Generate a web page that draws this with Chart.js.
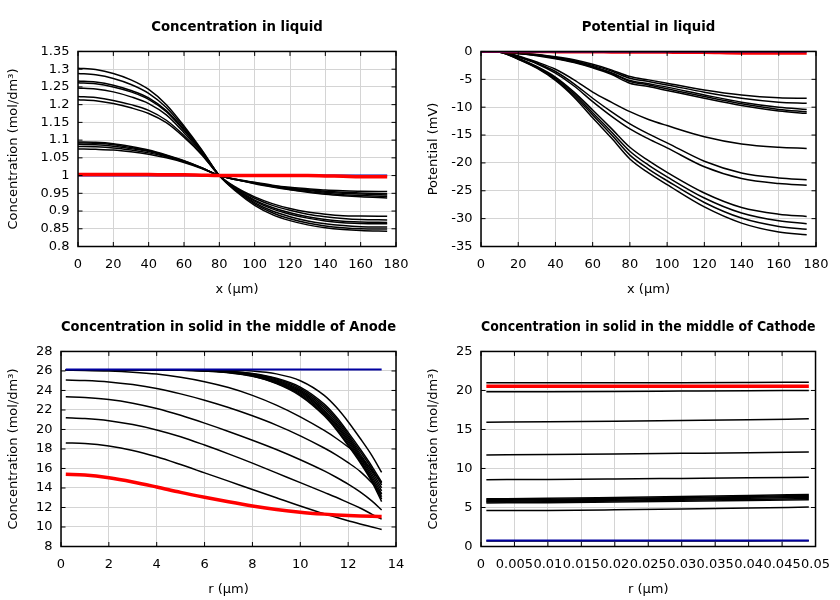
<!DOCTYPE html>
<html>
<head>
<meta charset="utf-8">
<title>Cell profiles</title>
<script src="https://cdn.jsdelivr.net/npm/chart.js@4.4.1/dist/chart.umd.min.js"></script>
<style>
    html, body { margin: 0; padding: 0; background: #fff; }
    #page { position: relative; width: 840px; height: 600px; }
    #page canvas { position: absolute; }
</style>
</head>
<body>
<div id="page">
    <canvas id="liquidConc" width="420" height="300" style="left:0;top:0"></canvas>
    <canvas id="liquidPot" width="420" height="300" style="left:420px;top:0"></canvas>
    <canvas id="anodeSolid" width="420" height="300" style="left:0;top:300px"></canvas>
    <canvas id="cathodeSolid" width="420" height="300" style="left:420px;top:300px"></canvas>
</div>
<script>
// Concentration in liquid
const liquidX = [0, 10, 20, 30, 40, 50, 60, 70, 80, 90, 100, 110, 120, 130, 140, 150, 160, 175];
const concHigh = [
    [1.303, 1.299, 1.288, 1.27, 1.243, 1.2, 1.14, 1.073, 1.0, 0.953, 0.916, 0.89, 0.873, 0.861, 0.853, 0.848, 0.845, 0.843],
    [1.288, 1.284, 1.274, 1.257, 1.232, 1.192, 1.135, 1.071, 1.0, 0.955, 0.92, 0.895, 0.878, 0.866, 0.858, 0.853, 0.85, 0.849],
    [1.267, 1.264, 1.255, 1.24, 1.219, 1.183, 1.13, 1.069, 1.0, 0.957, 0.924, 0.9, 0.884, 0.872, 0.864, 0.859, 0.856, 0.855],
    [1.262, 1.259, 1.25, 1.236, 1.215, 1.18, 1.127, 1.068, 1.0, 0.959, 0.928, 0.906, 0.891, 0.88, 0.872, 0.867, 0.865, 0.864],
    [1.247, 1.244, 1.236, 1.222, 1.203, 1.171, 1.121, 1.065, 1.0, 0.961, 0.931, 0.91, 0.895, 0.884, 0.876, 0.871, 0.869, 0.868],
    [1.223, 1.22, 1.212, 1.2, 1.184, 1.156, 1.113, 1.061, 1.0, 0.963, 0.936, 0.916, 0.902, 0.891, 0.884, 0.879, 0.876, 0.875],
    [1.214, 1.211, 1.203, 1.191, 1.175, 1.149, 1.108, 1.059, 1.0, 0.965, 0.94, 0.921, 0.907, 0.897, 0.891, 0.887, 0.886, 0.885]
];
const concLow = [
    [1.095, 1.094, 1.09, 1.082, 1.072, 1.058, 1.042, 1.022, 1.0, 0.988, 0.977, 0.968, 0.96, 0.953, 0.947, 0.943, 0.94, 0.937],
    [1.092, 1.091, 1.087, 1.079, 1.07, 1.057, 1.041, 1.022, 1.0, 0.988, 0.978, 0.969, 0.961, 0.955, 0.95, 0.946, 0.944, 0.941],
    [1.088, 1.087, 1.083, 1.076, 1.068, 1.055, 1.04, 1.021, 1.0, 0.988, 0.979, 0.97, 0.963, 0.958, 0.953, 0.95, 0.948, 0.945],
    [1.082, 1.081, 1.078, 1.072, 1.064, 1.053, 1.039, 1.021, 1.0, 0.989, 0.98, 0.971, 0.965, 0.96, 0.956, 0.953, 0.951, 0.949],
    [1.075, 1.074, 1.072, 1.067, 1.06, 1.05, 1.037, 1.02, 1.0, 0.989, 0.981, 0.973, 0.967, 0.963, 0.959, 0.957, 0.956, 0.955]
];
const concStart = [1, 1, 1, 1, 1, 1, 1, 1, 1, 1, 1, 1, 1, 1, 1, 1, 1, 1];
const concEnd = [1.003, 1.003, 1.003, 1.003, 1.003, 1.002, 1.002, 1.001, 1.0, 1.0, 1.0, 1.0, 1.0, 1.0, 0.999, 0.998, 0.997, 0.997];

// Potential in liquid
const potX = [0, 10, 20, 30, 40, 50, 60, 70, 80, 90, 100, 120, 140, 160, 175];
const potCurves = [
    [0, -0.05, -0.25, -0.55, -0.95, -1.5, -2.3, -3.3, -4.5, -5.1, -5.7, -6.9, -7.8, -8.3, -8.4],
    [0, -0.05, -0.3, -0.6, -1.05, -1.65, -2.5, -3.5, -4.8, -5.4, -6.0, -7.3, -8.4, -9.1, -9.3],
    [0, -0.05, -0.3, -0.65, -1.15, -1.8, -2.7, -3.8, -5.2, -5.8, -6.4, -7.8, -9.1, -10.0, -10.4],
    [0, -0.05, -0.35, -0.7, -1.2, -1.9, -2.8, -3.9, -5.4, -6.0, -6.7, -8.1, -9.4, -10.4, -10.8],
    [0, -0.06, -0.35, -0.75, -1.3, -2.0, -2.95, -4.1, -5.7, -6.3, -7.0, -8.4, -9.7, -10.7, -11.1],
    [0, -0.1, -0.8, -1.9, -3.2, -5.1, -7.3, -9.1, -10.8, -12.2, -13.3, -15.3, -16.6, -17.2, -17.4],
    [0, -0.1, -0.9, -2.1, -3.6, -5.8, -8.4, -10.8, -13.0, -14.8, -16.4, -19.7, -21.8, -22.7, -23.0],
    [0, -0.1, -1.0, -2.2, -3.9, -6.2, -9.0, -11.6, -13.9, -15.7, -17.3, -20.7, -22.8, -23.7, -24.0],
    [0, -0.12, -1.2, -2.7, -4.6, -7.3, -10.5, -13.8, -17.2, -19.6, -21.7, -25.4, -28.0, -29.2, -29.6],
    [0, -0.12, -1.3, -2.8, -4.8, -7.6, -11.0, -14.4, -17.9, -20.4, -22.5, -26.3, -29.0, -30.4, -30.9],
    [0, -0.13, -1.35, -2.9, -5.0, -7.9, -11.4, -14.9, -18.6, -21.1, -23.2, -27.1, -29.9, -31.4, -31.9],
    [0, -0.14, -1.4, -3.0, -5.2, -8.2, -11.9, -15.5, -19.3, -21.8, -23.9, -27.9, -30.8, -32.4, -32.9]
];
const potStart = [0, 0, 0, 0, 0, 0, 0, 0, 0, 0, 0, 0, 0, 0, 0];
const potEnd = [0, -0.02, -0.05, -0.06, -0.08, -0.1, -0.1, -0.12, -0.13, -0.15, -0.16, -0.2, -0.3, -0.3, -0.3];

// Concentration in solid, anode
const anodeR = [0.2, 1, 2, 3, 4, 5, 6, 7, 8, 9, 10, 11, 11.5, 12, 12.5, 13, 13.4];
const anodeCurves = [
    [26.1, 26.1, 26.1, 26.1, 26.1, 26.1, 26.1, 26.08, 26.0, 25.7, 25.0, 23.5, 22.3, 20.8, 19.1, 17.3, 15.6],
    [26.1, 26.1, 26.1, 26.1, 26.1, 26.1, 26.07, 25.97, 25.75, 25.25, 24.35, 22.6, 21.3, 19.7, 18.0, 16.2, 14.6],
    [26.1, 26.1, 26.1, 26.1, 26.1, 26.1, 26.06, 25.95, 25.71, 25.17, 24.2, 22.4, 21.1, 19.5, 17.75, 15.95, 14.3],
    [26.1, 26.1, 26.1, 26.1, 26.1, 26.1, 26.05, 25.93, 25.66, 25.07, 24.05, 22.2, 20.9, 19.3, 17.5, 15.65, 14.0],
    [26.1, 26.1, 26.1, 26.1, 26.1, 26.1, 26.04, 25.91, 25.62, 24.98, 23.92, 22.0, 20.7, 19.1, 17.3, 15.4, 13.7],
    [26.1, 26.1, 26.1, 26.1, 26.1, 26.09, 26.03, 25.89, 25.57, 24.9, 23.8, 21.85, 20.5, 18.9, 17.1, 15.15, 13.4],
    [26.1, 26.1, 26.1, 26.1, 26.1, 26.09, 26.02, 25.87, 25.53, 24.83, 23.68, 21.7, 20.35, 18.7, 16.9, 14.9, 13.1],
    [26.1, 26.1, 26.1, 26.1, 26.1, 26.08, 26.01, 25.85, 25.49, 24.76, 23.56, 21.55, 20.15, 18.5, 16.75, 14.75, 12.85],
    [26.1, 26.1, 26.1, 26.1, 26.1, 26.07, 26.0, 25.82, 25.45, 24.7, 23.45, 21.4, 20.0, 18.35, 16.6, 14.6, 12.6],
    [26.08, 26.06, 26.0, 25.88, 25.68, 25.35, 24.9, 24.3, 23.5, 22.5, 21.3, 19.9, 19.1, 18.2, 17.2, 15.8, 14.5],
    [25.07, 25.02, 24.88, 24.6, 24.2, 23.65, 23.0, 22.25, 21.4, 20.45, 19.35, 18.1, 17.4, 16.6, 15.7, 14.5, 13.35],
    [23.35, 23.28, 23.08, 22.7, 22.15, 21.45, 20.65, 19.8, 18.9, 17.95, 16.9, 15.75, 15.1, 14.4, 13.6, 12.65, 11.75],
    [21.2, 21.12, 20.9, 20.5, 19.95, 19.25, 18.4, 17.5, 16.55, 15.55, 14.55, 13.55, 13.05, 12.5, 11.95, 11.3, 10.8],
    [18.62, 18.55, 18.3, 17.85, 17.2, 16.4, 15.55, 14.7, 13.85, 13.0, 12.15, 11.35, 11.0, 10.65, 10.3, 10.0, 9.75]
];
const anodeStart = [26.15, 26.15, 26.15, 26.15, 26.15, 26.15, 26.15, 26.15, 26.15, 26.15, 26.15, 26.15, 26.15, 26.15, 26.15, 26.15, 26.15];
const anodeEnd = [15.4, 15.33, 15.05, 14.62, 14.1, 13.55, 13.05, 12.58, 12.15, 11.8, 11.52, 11.32, 11.24, 11.17, 11.12, 11.09, 11.08];

// Concentration in solid, cathode
const cathodeR = [0.0008, 0.01, 0.02, 0.03, 0.04, 0.049];
const cathodeCurves = [
    [21.0, 21.0, 21.0, 21.0, 21.02, 21.05],
    [19.83, 19.85, 19.88, 19.92, 19.96, 20.0],
    [15.94, 15.98, 16.06, 16.16, 16.26, 16.36],
    [11.74, 11.78, 11.85, 11.94, 12.03, 12.12],
    [8.57, 8.6, 8.66, 8.73, 8.8, 8.87],
    [6.12, 6.17, 6.28, 6.4, 6.54, 6.68],
    [6.01, 6.06, 6.16, 6.28, 6.42, 6.55],
    [5.9, 5.95, 6.05, 6.17, 6.3, 6.42],
    [5.8, 5.85, 5.94, 6.05, 6.17, 6.28],
    [5.69, 5.74, 5.83, 5.93, 6.04, 6.14],
    [5.58, 5.62, 5.7, 5.8, 5.9, 6.0],
    [4.6, 4.62, 4.7, 4.8, 4.92, 5.05],
    [0.72, 0.72, 0.72, 0.72, 0.72, 0.73]
];
const cathodeStart = [0.77, 0.77, 0.77, 0.77, 0.77, 0.77];
const cathodeEnd = [20.55, 20.55, 20.55, 20.55, 20.55, 20.55];

const FONT = '"DejaVu Sans", sans-serif';
const GRID = '#d4d4d4';
const BLUE = '#0000a0';
const RED = '#ff0000';

/**
 * Black frame with inward tick marks on all four sides.
 */
const framePlugin = {
    id: 'frame',
    afterDatasetsDraw(chart) {
        const { ctx, chartArea: area, scales } = chart;
        const len = 4.5;
        ctx.save();
        ctx.strokeStyle = '#000';
        ctx.lineWidth = 1;
        ctx.beginPath();
        scales.x.ticks.forEach(t => {
            const px = scales.x.getPixelForValue(t.value);
            ctx.moveTo(px, area.bottom);
            ctx.lineTo(px, area.bottom - len);
            ctx.moveTo(px, area.top);
            ctx.lineTo(px, area.top + len);
        });
        scales.y.ticks.forEach(t => {
            const py = scales.y.getPixelForValue(t.value);
            ctx.moveTo(area.left, py);
            ctx.lineTo(area.left + len, py);
            ctx.moveTo(area.right, py);
            ctx.lineTo(area.right - len, py);
        });
        ctx.stroke();
        ctx.lineWidth = 1.5;
        ctx.strokeRect(area.left, area.top, area.right - area.left, area.bottom - area.top);
        ctx.restore();
    }
};

function line(xs, ys, color, width) {
    return {
        data: xs.map((x, i) => ({ x: x, y: ys[i] })),
        borderColor: color,
        borderWidth: width,
        pointRadius: 0,
        fill: false,
        cubicInterpolationMode: 'monotone'
    };
}

function label(v) {
    return String(parseFloat(v.toFixed(4)));
}

/**
 * Build one panel. Datasets listed first are drawn on top.
 */
function panel(id, p) {
    const font = { family: FONT, size: 13 };
    new Chart(document.getElementById(id), {
        type: 'line',
        data: { datasets: p.datasets },
        plugins: [framePlugin],
        options: {
            responsive: false,
            animation: false,
            devicePixelRatio: 1,
            layout: { padding: { left: 0, right: 24, top: 0, bottom: 0 } },
            plugins: {
                legend: { display: false },
                tooltip: { enabled: false },
                title: {
                    display: true,
                    text: p.title,
                    fullSize: false,
                    color: '#000',
                    font: { family: FONT, size: 13.3, weight: 'bold' },
                    padding: { top: 20, bottom: 15.5 }
                }
            },
            scales: {
                x: {
                    type: 'linear',
                    min: p.xMin,
                    max: p.xMax,
                    afterFit: s => { s.height = 53.5; },
                    border: { display: false },
                    grid: { color: GRID, drawTicks: false },
                    ticks: {
                        stepSize: p.xStep, autoSkip: false, maxRotation: 0, minRotation: 0,
                        padding: 10, color: '#000', font: font, callback: label
                    },
                    title: { display: true, text: p.xTitle, color: '#000', font: font, padding: { top: 0, bottom: 2.5 } }
                },
                y: {
                    type: 'linear',
                    min: p.yMin,
                    max: p.yMax,
                    afterFit: s => { s.width = p.left; },
                    border: { display: false },
                    grid: { color: GRID, drawTicks: false },
                    ticks: {
                        stepSize: p.yStep, autoSkip: false, padding: 8.5,
                        color: '#000', font: font, callback: label
                    },
                    title: { display: true, text: p.yTitle, color: '#000', font: font, padding: { top: 5.9, bottom: 0 } }
                }
            }
        }
    });
}

panel('liquidConc', {
    title: 'Concentration in liquid',
    xTitle: 'x (µm)', yTitle: 'Concentration (mol/dm³)',
    left: 78, xMin: 0, xMax: 180, xStep: 20, yMin: 0.8, yMax: 1.35, yStep: 0.05,
    datasets: [line(liquidX, concEnd, RED, 3.5), line(liquidX, concStart, BLUE, 2)]
        .concat(concHigh.map(c => line(liquidX, c, '#000', 1.5)))
        .concat(concLow.map(c => line(liquidX, c, '#000', 1.5)))
});

panel('liquidPot', {
    title: 'Potential in liquid',
    xTitle: 'x (µm)', yTitle: 'Potential (mV)',
    left: 61, xMin: 0, xMax: 180, xStep: 20, yMin: -35, yMax: 0, yStep: 5,
    datasets: [line(potX, potStart, BLUE, 2), line(potX, potEnd, RED, 3)]
        .concat(potCurves.map(c => line(potX, c, '#000', 1.5)))
});

panel('anodeSolid', {
    title: 'Concentration in solid in the middle of Anode',
    xTitle: 'r (µm)', yTitle: 'Concentration (mol/dm³)',
    left: 61, xMin: 0, xMax: 14, xStep: 2, yMin: 8, yMax: 28, yStep: 2,
    datasets: [line(anodeR, anodeStart, BLUE, 2), line(anodeR, anodeEnd, RED, 3.5)]
        .concat(anodeCurves.map(c => line(anodeR, c, '#000', 1.5)))
});

panel('cathodeSolid', {
    title: 'Concentration in solid in the middle of Cathode',
    xTitle: 'r (µm)', yTitle: 'Concentration (mol/dm³)',
    left: 61, xMin: 0, xMax: 0.05, xStep: 0.005, yMin: 0, yMax: 25, yStep: 5,
    datasets: [line(cathodeR, cathodeStart, BLUE, 2), line(cathodeR, cathodeEnd, RED, 3.5)]
        .concat(cathodeCurves.map(c => line(cathodeR, c, '#000', 1.5)))
});
</script>
</body>
</html>
